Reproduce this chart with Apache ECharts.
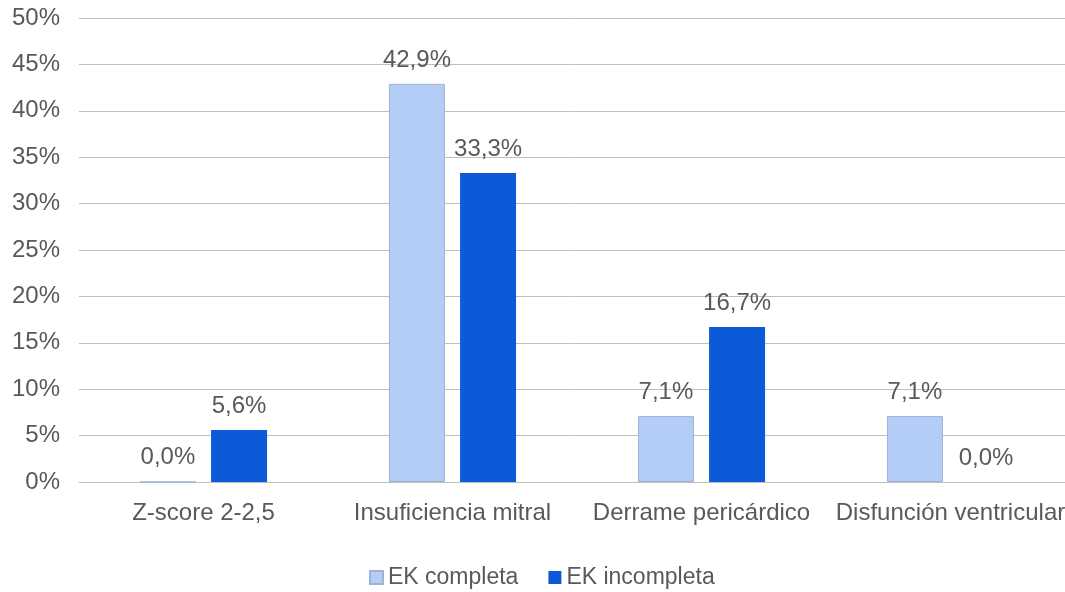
<!DOCTYPE html>
<html>
<head>
<meta charset="utf-8">
<script src="https://cdn.jsdelivr.net/npm/echarts@6/dist/echarts.min.js"></script>
<style>
  html, body { margin: 0; padding: 0; background: #fff; }
  #chart { width: 1065px; height: 592px; }
</style>
</head>
<body>
<div id="chart"></div>
<script>
// categories and series values
const categories = ['Z-score 2-2,5', 'Insuficiencia mitral', 'Derrame pericárdico', 'Disfunción ventricular'];
const ekCompleta = [0.0, 42.9, 7.1, 7.1];
const ekIncompleta = [5.6, 33.3, 16.7, 0.0];
const seriesNames = ['EK completa', 'EK incompleta'];

const chart = echarts.init(document.getElementById('chart'));

// 42.9 -> "42,9%"
function pct(p) {
    return p.value.toFixed(1).replace('.', ',') + '%';
}

const font = 'Liberation Sans, Arial, sans-serif';
const textCol = '#595959';
const fs = 24;

let option = {
    animation: false,
    textStyle: { fontFamily: font },
    grid: {
        left: 79,
        right: -10,
        top: 18,
        height: 464,
        outerBoundsMode: 'none'
    },
    legend: {
        data: seriesNames,
        top: 561,
        left: 364,
        icon: 'rect',
        itemWidth: 13,
        itemHeight: 13,
        itemGap: 30,
        textStyle: { fontSize: 23, color: textCol, fontFamily: font }
    },
    xAxis: {
        type: 'category',
        data: categories,
        axisLine: { lineStyle: { color: '#bfbfbf', width: 1 } },
        axisTick: { show: false },
        axisLabel: { fontSize: fs, color: textCol, margin: 19, fontFamily: font, interval: 0 }
    },
    yAxis: {
        type: 'value',
        min: 0,
        max: 50,
        interval: 5,
        axisLine: { show: false },
        axisTick: { show: false },
        axisLabel: { formatter: '{value}%', fontSize: fs, color: textCol, margin: 19, fontFamily: font },
        splitLine: { lineStyle: { color: '#bfbfbf', width: 1 } }
    },
    series: [{
        name: seriesNames[0],
        type: 'bar',
        data: ekCompleta,
        barWidth: 56,
        barGap: '27%',
        itemStyle: { color: '#b4cdf7', borderColor: '#9fb2d4', borderWidth: 1 },
        label: {
            show: true, position: 'top', distance: 12, formatter: pct,
            fontSize: fs, color: textCol, fontFamily: font
        }
    }, {
        name: seriesNames[1],
        type: 'bar',
        data: ekIncompleta,
        barWidth: 56,
        itemStyle: { color: '#0c5ad8' },
        label: {
            show: true, position: 'top', distance: 12, formatter: pct,
            fontSize: fs, color: textCol, fontFamily: font
        }
    }]
};
chart.setOption(option);
</script>
</body>
</html>
